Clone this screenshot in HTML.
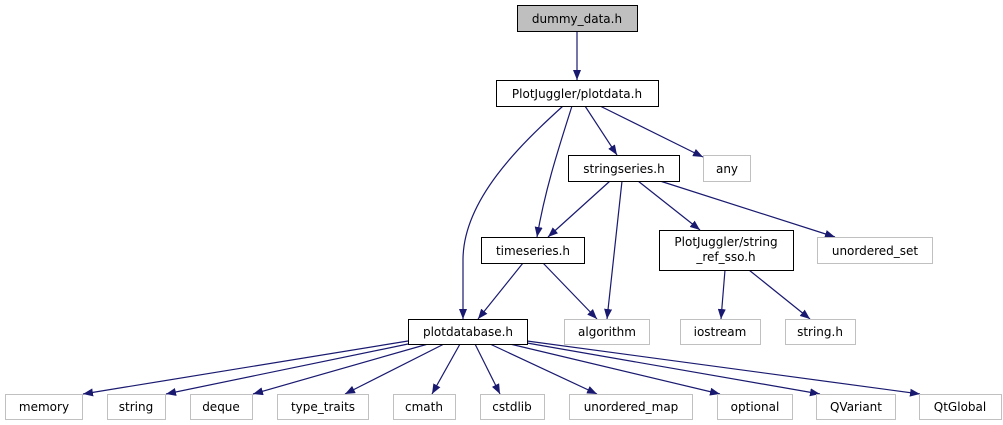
<!DOCTYPE html>
<html><head><style>
body{margin:0;background:#fff;}
svg{display:block;font-family:"DejaVu Sans","Liberation Sans",sans-serif;font-size:12px;}
</style></head><body>
<svg width="1003" height="425" viewBox="0 0 1003 425" xmlns="http://www.w3.org/2000/svg">
<defs><marker id="a" markerWidth="10" markerHeight="8" refX="10" refY="4" orient="auto" markerUnits="userSpaceOnUse"><path d="M0,0 L10,4 L0,8 z" fill="#191970"/></marker></defs>
<g stroke="#191970" stroke-width="1.2" fill="none" marker-end="url(#a)">
<path d="M577,31 L577,80"/>
<path d="M563,106 C520,145 463,200 463,260 L463,319"/>
<path d="M572,106 C558,150 545,190 537,237"/>
<path d="M585,106 L617,155"/>
<path d="M600,106 L703,157"/>
<path d="M610,181 L548,237"/>
<path d="M622,181 L607,319"/>
<path d="M638,181 L700,230"/>
<path d="M660,181 L835,237"/>
<path d="M523,263 L478,319"/>
<path d="M543,263 L597,319"/>
<path d="M725,270 L721,319"/>
<path d="M749,270 L810,319"/>
<path d="M408,341 L83,394"/>
<path d="M408,344 L166,394"/>
<path d="M428,344 L253,394"/>
<path d="M444,344 L345,394"/>
<path d="M460,344 L432,394"/>
<path d="M475,344 L500,394"/>
<path d="M490,344 L597,394"/>
<path d="M510,344 L720,394"/>
<path d="M527,343 L820,394"/>
<path d="M527,341 L920,394"/>
</g>
<g stroke="#000" stroke-width="1">
<rect x="517.5" y="5.5" width="120" height="26" fill="#bfbfbf"/>
<rect x="496.5" y="80.5" width="162" height="26" fill="#fff"/>
<rect x="568.5" y="155.5" width="111" height="26" fill="#fff"/>
<rect x="481.5" y="237.5" width="103" height="26" fill="#fff"/>
<rect x="659.5" y="230.5" width="134" height="40" fill="#fff"/>
<rect x="408.5" y="319.5" width="119" height="25" fill="#fff"/>
</g>
<g stroke="#c0c0c0" stroke-width="1" fill="#fff">
<rect x="703.5" y="155.5" width="47" height="26"/>
<rect x="817.5" y="237.5" width="115" height="26"/>
<rect x="564.5" y="319.5" width="85" height="25"/>
<rect x="680.5" y="319.5" width="80" height="25"/>
<rect x="785.5" y="319.5" width="70" height="25"/>
<rect x="5.5" y="394.5" width="77" height="25"/>
<rect x="107.5" y="394.5" width="58" height="25"/>
<rect x="190.5" y="394.5" width="62" height="25"/>
<rect x="277.5" y="394.5" width="91" height="25"/>
<rect x="393.5" y="394.5" width="62" height="25"/>
<rect x="480.5" y="394.5" width="64" height="25"/>
<rect x="569.5" y="394.5" width="123" height="25"/>
<rect x="717.5" y="394.5" width="75" height="25"/>
<rect x="816.5" y="394.5" width="79" height="25"/>
<rect x="919.5" y="394.5" width="82" height="25"/>
</g>
<g fill="#000" text-anchor="middle">
<text x="577" y="23">dummy_data.h</text>
<text x="577" y="98">PlotJuggler/plotdata.h</text>
<text x="624" y="173">stringseries.h</text>
<text x="533" y="255">timeseries.h</text>
<text x="726" y="246">PlotJuggler/string</text>
<text x="726" y="261">_ref_sso.h</text>
<text x="468" y="336">plotdatabase.h</text>
<text x="727" y="173">any</text>
<text x="875" y="255">unordered_set</text>
<text x="607" y="336">algorithm</text>
<text x="720" y="336">iostream</text>
<text x="820" y="336">string.h</text>
<text x="44" y="411">memory</text>
<text x="136" y="411">string</text>
<text x="221" y="411">deque</text>
<text x="323" y="411">type_traits</text>
<text x="424" y="411">cmath</text>
<text x="512" y="411">cstdlib</text>
<text x="631" y="411">unordered_map</text>
<text x="755" y="411">optional</text>
<text x="856" y="411">QVariant</text>
<text x="960" y="411">QtGlobal</text>
</g>
</svg>
</body></html>
